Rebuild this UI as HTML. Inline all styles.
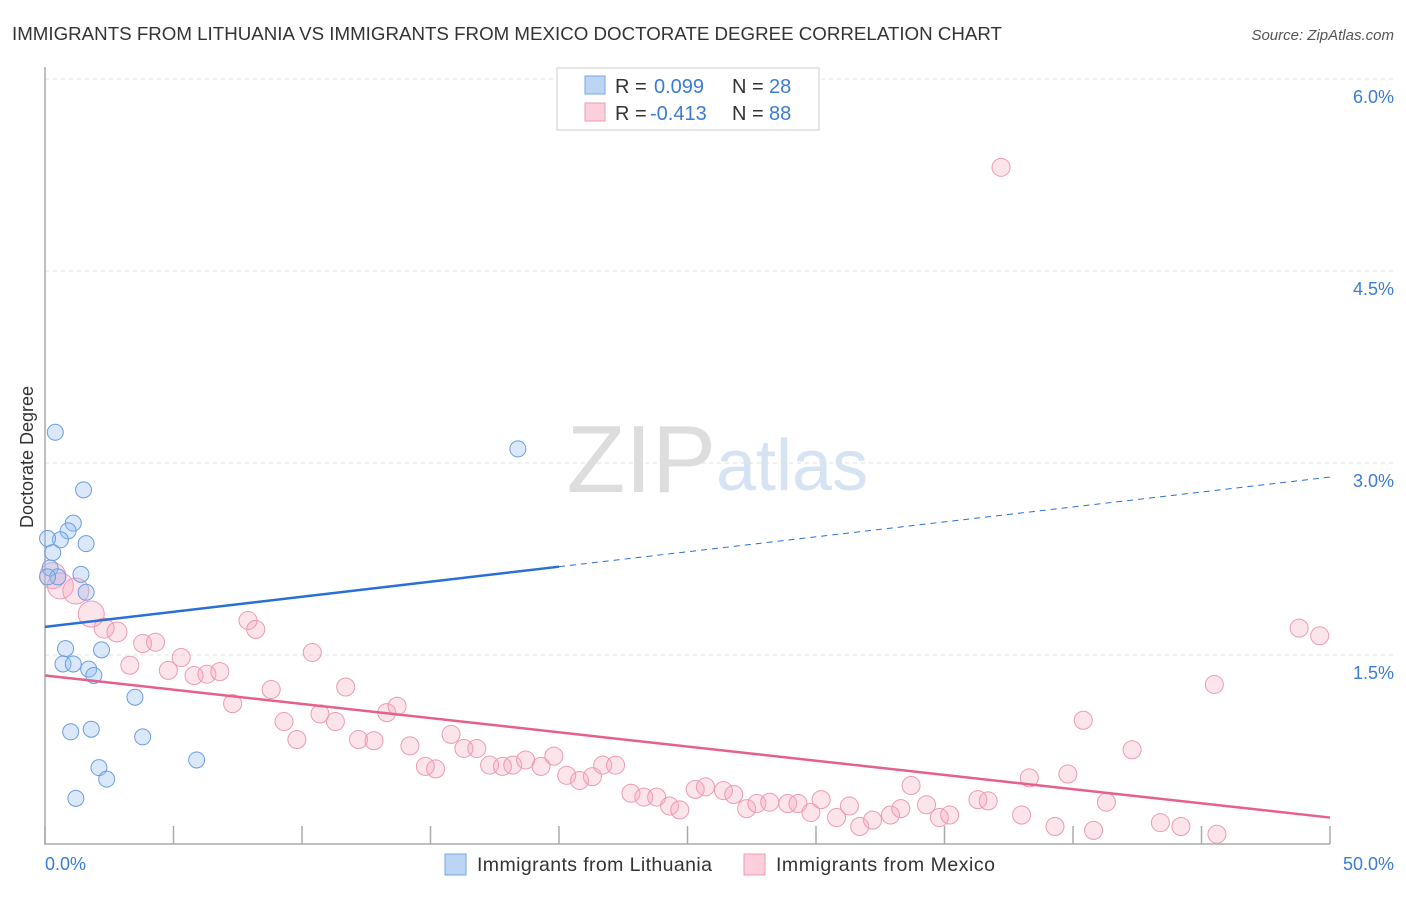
<!DOCTYPE html>
<html><head><meta charset="utf-8"><style>
body{margin:0;background:#fff;font-family:"Liberation Sans",sans-serif;}
svg text{font-family:"Liberation Sans",sans-serif;}
</style></head><body>
<svg width="1406" height="892" xmlns="http://www.w3.org/2000/svg">
<text x="12" y="40" font-size="18" fill="#333" textLength="990" lengthAdjust="spacingAndGlyphs">IMMIGRANTS FROM LITHUANIA VS IMMIGRANTS FROM MEXICO DOCTORATE DEGREE CORRELATION CHART</text>
<text x="1394" y="40" font-size="15" fill="#555" font-style="italic" text-anchor="end">Source: ZipAtlas.com</text>
<text x="716" y="492" font-size="96" fill="#ddd" text-anchor="end" font-family="Liberation Serif">ZIP</text>
<text x="716" y="490" font-size="72" fill="#d6e3f3">atlas</text>
<g id="grid"></g>
<line x1="45" y1="67" x2="45" y2="845" stroke="#aaa" stroke-width="1.5"/>
<line x1="45" y1="844" x2="1330" y2="844" stroke="#aaa" stroke-width="1.5"/>
<g id="ticks"></g>
<text x="33" y="457" font-size="18" fill="#333" text-anchor="middle" transform="rotate(-90 33 457)">Doctorate Degree</text>
<text x="45" y="870" font-size="18" fill="#3b7bd6">0.0%</text>
<text x="1394" y="870" font-size="18" fill="#3b7bd6" text-anchor="end">50.0%</text>
<g id="pink"></g>
<g id="blue"></g>
<g id="trend"></g>
<g>
<rect x="557" y="68" width="262" height="62" fill="#fff" stroke="#ccc"/>
<rect x="585" y="76" width="20" height="18" fill="#bcd5f5" stroke="#7aa6e0"/>
<rect x="585" y="103" width="20" height="18" fill="#fbcfdc" stroke="#ee9bb4"/>
<text x="615" y="93" font-size="20" fill="#333">R = <tspan x="654" fill="#3b7bd6">0.099</tspan><tspan x="732">N = </tspan><tspan x="769" fill="#3b7bd6">28</tspan></text>
<text x="615" y="120" font-size="20" fill="#333">R = <tspan x="650" fill="#3b7bd6">-0.413</tspan><tspan x="732">N = </tspan><tspan x="769" fill="#3b7bd6">88</tspan></text>
</g>
<g>
<rect x="445" y="854" width="21" height="21" fill="#bcd5f5" stroke="#7aa6e0"/>
<text x="477" y="871" font-size="19.5" fill="#333" textLength="235">Immigrants from Lithuania</text>
<rect x="744" y="854" width="21" height="21" fill="#fbcfdc" stroke="#ee9bb4"/>
<text x="776" y="871" font-size="19.5" fill="#333" textLength="219">Immigrants from Mexico</text>
</g>
</svg>
<script>
const yTicks=[1.5,3.0,4.5,6.0];
const xTicks=[0,5,10,15,20,25,30,35,40,45,50];
const blueX=[0.4,1.5,1.1,0.9,0.6,0.1,1.6,0.3,0.2,1.4,0.5,1.6,0.8,2.2,0.7,1.1,1.7,1.9,3.5,1.0,1.8,3.8,5.9,2.1,2.4,1.2,18.4,0.1];
const blueY=[3.24,2.79,2.53,2.47,2.40,2.41,2.37,2.30,2.18,2.13,2.11,1.99,1.55,1.54,1.43,1.43,1.39,1.34,1.17,0.90,0.92,0.86,0.68,0.62,0.53,0.38,3.11,2.11];
const pinkX=[0.3,0.6,1.2,1.8,2.3,2.8,3.3,3.8,4.3,4.8,5.3,5.8,6.3,6.8,7.3,7.9,8.2,8.8,9.3,9.8,10.4,10.7,11.3,11.7,12.2,12.8,13.3,13.7,14.2,14.8,15.2,15.8,16.3,16.8,17.3,17.8,18.2,18.7,19.3,19.8,20.3,20.8,21.3,21.7,22.2,22.8,23.3,23.8,24.3,24.7,25.3,25.7,26.4,26.8,27.3,27.7,28.2,28.9,29.3,29.8,30.2,30.8,31.3,31.7,32.2,32.9,33.3,33.7,34.3,34.8,35.2,36.3,36.7,37.2,38.0,38.3,39.3,39.8,40.4,40.8,41.3,42.3,43.4,44.2,45.5,45.6,48.8,49.6];
const pinkY=[2.12,2.04,2.00,1.82,1.71,1.68,1.42,1.59,1.60,1.38,1.48,1.34,1.35,1.37,1.12,1.77,1.70,1.23,0.98,0.84,1.52,1.04,0.98,1.25,0.84,0.83,1.05,1.10,0.79,0.63,0.61,0.88,0.77,0.77,0.64,0.63,0.64,0.68,0.63,0.71,0.56,0.52,0.55,0.64,0.64,0.42,0.39,0.39,0.32,0.29,0.45,0.47,0.44,0.41,0.30,0.34,0.35,0.34,0.34,0.27,0.37,0.23,0.32,0.16,0.21,0.25,0.30,0.48,0.33,0.23,0.25,0.37,0.36,5.31,0.25,0.54,0.16,0.57,0.99,0.13,0.35,0.76,0.19,0.16,1.27,0.10,1.71,1.65];
const blueTrend=[1.72,2.19,2.89];
const pinkTrend=[1.34,0.23];
const X=v=>45+v*25.7;
const Y=v=>847-v*128;
const NS="http://www.w3.org/2000/svg";
function mk(t,a,p){const e=document.createElementNS(NS,t);for(const k in a)e.setAttribute(k,a[k]);document.getElementById(p).appendChild(e);return e;}
yTicks.forEach(t=>{
 const l=mk('line',{x1:45,x2:1394,y1:Y(t),y2:Y(t),stroke:'#e0e0e0','stroke-dasharray':'4,4'},'grid');
 
 
 const tx=mk('text',{x:1394,y:Y(t)+24,'font-size':18,fill:'#3b7bd6','text-anchor':'end'},'grid');
 tx.textContent=t.toFixed(1)+'%';
 
 
});
xTicks.forEach(t=>{
 const l=mk('line',{x1:X(t),x2:X(t),y1:826,y2:844,stroke:'#aaa','stroke-width':1.5},'ticks');
 
 
});
pinkX.forEach((x,i)=>{
 const r=i<4?13:(i<6?10:9);
 const c=mk('circle',{cx:X(x),cy:Y(pinkY[i]),r:r,fill:'rgba(245,165,190,0.3)',stroke:'#ec9ab3','stroke-width':1},'pink');
 
 
});
blueX.forEach((x,i)=>{
 const c=mk('circle',{cx:X(x),cy:Y(blueY[i]),r:8,fill:'rgba(150,190,240,0.35)',stroke:'#6a9ddf','stroke-width':1},'blue');
 
 
});
let l=mk('line',{x1:X(0),y1:Y(blueTrend[0]),x2:X(20),y2:Y(blueTrend[1]),stroke:'#2a6fd6','stroke-width':2.5},'trend');


l=mk('line',{x1:X(20),y1:Y(blueTrend[1]),x2:X(50),y2:Y(blueTrend[2]),stroke:'#2a6fd6','stroke-width':1,'stroke-dasharray':'6,5'},'trend');


l=mk('line',{x1:X(0),y1:Y(pinkTrend[0]),x2:X(50),y2:Y(pinkTrend[1]),stroke:'#e5608a','stroke-width':2.5},'trend');


</script>
</body></html>
